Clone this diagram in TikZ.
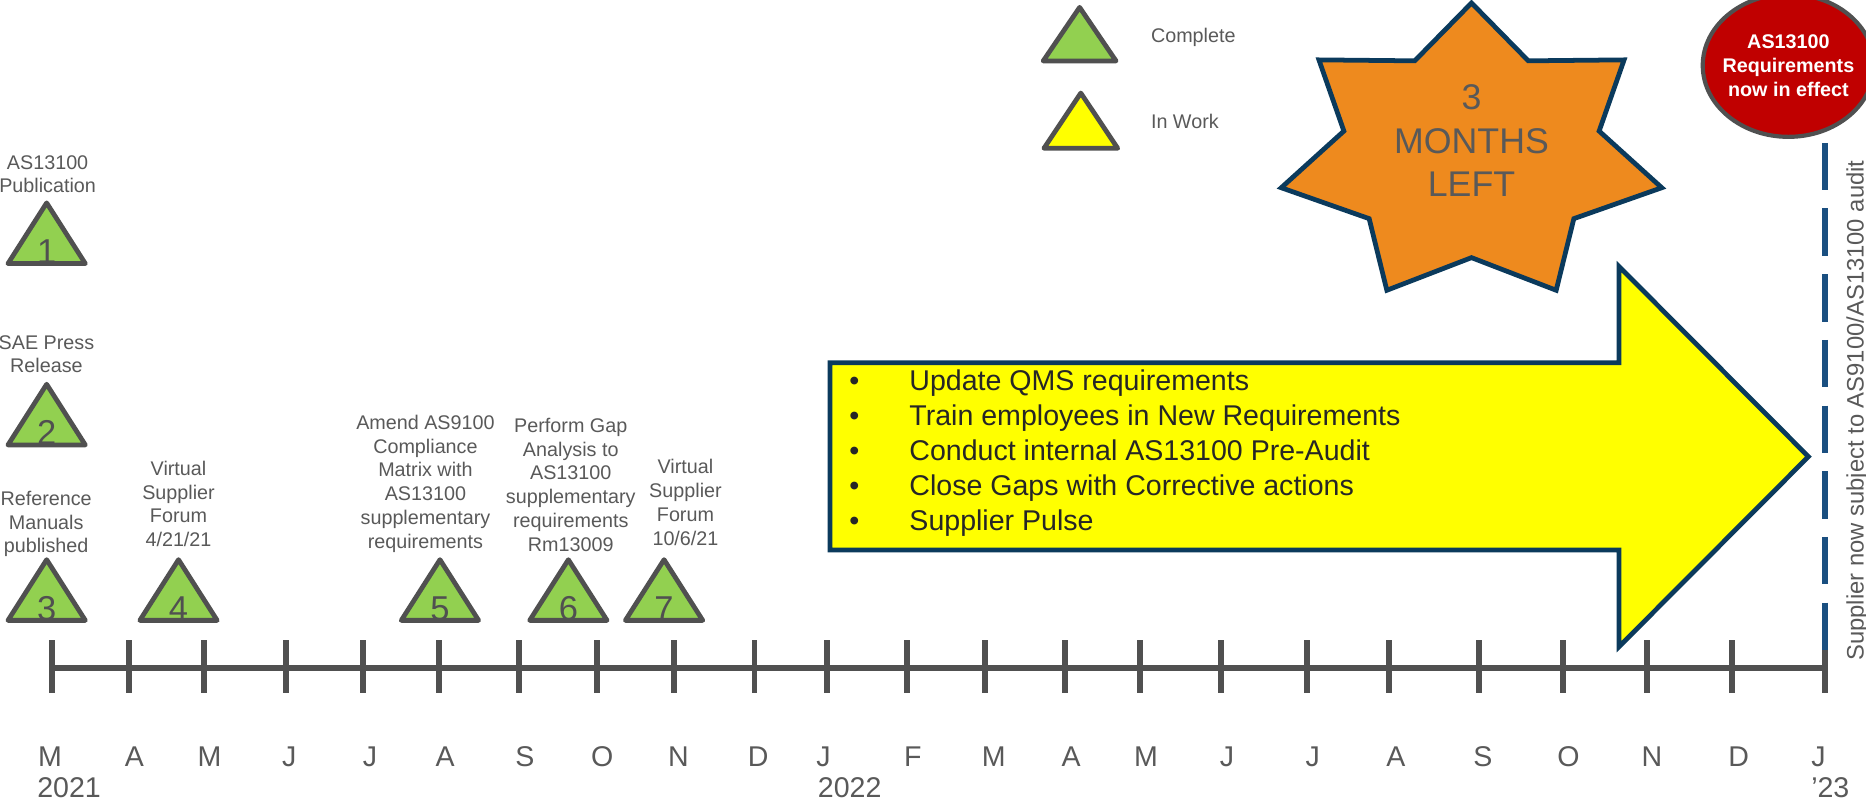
\documentclass[tikz,border=0pt]{standalone}
\usepackage{fontspec}
\setmainfont{Liberation Sans}
\usetikzlibrary{calc}

\definecolor{okgreen}{HTML}{92D050}
\definecolor{wipyellow}{HTML}{FFFF00}
\definecolor{edgegray}{HTML}{505050}
\definecolor{labelgray}{HTML}{595959}
\definecolor{burstorange}{HTML}{EE8A1E}
\definecolor{navy}{HTML}{0B3A5C}
\definecolor{auditblue}{HTML}{1A4F80}
\definecolor{effectred}{HTML}{C00000}
\definecolor{tasktext}{HTML}{262626}

\begin{document}
\begin{tikzpicture}[x=1pt, y=1pt,
        done/.style={draw=edgegray, fill=okgreen, line width=4pt, line join=round},
        inwork/.style={draw=edgegray, fill=wipyellow, line width=4pt, line join=round},
        digit/.style={anchor=base, inner sep=0, text=edgegray, font=\fontsize{29}{34}\selectfont},
        mslabel/.style={anchor=south, inner sep=0, align=center, text depth=0pt, text=labelgray, font=\fontsize{16.6}{20}\selectfont},
        lgtext/.style={anchor=base west, inner sep=0, text=labelgray, font=\fontsize{16.6}{20}\selectfont},
        burst/.style={draw=navy, fill=burstorange, line width=4pt},
        bigarrow/.style={draw=navy, fill=wipyellow, line width=4pt},
        taskdot/.style={anchor=base, inner sep=0, text=tasktext, font=\fontsize{24}{29}\selectfont},
        tasktxt/.style={anchor=base west, inner sep=0, text=tasktext, font=\fontsize{24}{29}\selectfont},
        effect/.style={draw=edgegray, fill=effectred, line width=3.5pt},
        deadline/.style={draw=auditblue, line width=4.5pt, dash pattern=on 39.8pt off 15.4pt},
        axisline/.style={draw=edgegray, line width=5pt},
        tickmark/.style={draw=edgegray, line width=5pt},
        month/.style={anchor=base, inner sep=0, text=labelgray, font=\fontsize{24}{28}\selectfont}
    ]
    \useasboundingbox (0,0) rectangle (1568,672);

    % milestones
    \foreach \n/\x/\y in {1/39.2/450.5, 2/39.2/298.1, 3/39.2/150.7, 4/150/150.7,
                          5/369.7/150.7, 6/477.6/150.7, 7/558/150.7} {
        \draw[done] (\x-32.5,\y) -- (\x,\y+51) -- (\x+32.5,\y) -- cycle;
        \node[digit] (d\n) at (\x,\y) {\n};
    }

    \node[mslabel] (lbl1) at (40,509.7) {AS13100\\Publication};
    \node[mslabel] (lbl2) at (39,358.4) {SAE Press\\Release};
    \node[mslabel] (lbl3) at (38.8,207.2) {Reference\\Manuals\\published};
    \node[mslabel] (lbl4) at (150,212.4) {Virtual\\Supplier\\Forum\\4/21/21};
    \node[mslabel] (lbl5) at (357.5,211) {Amend AS9100\\Compliance\\Matrix with\\AS13100\\supplementary\\requirements};
    \node[mslabel] (lbl6) at (479.6,208.5) {Perform Gap\\Analysis to\\AS13100\\supplementary\\requirements\\Rm13009};
    \node[mslabel] (lbl7) at (576,213.6) {Virtual\\Supplier\\Forum\\10/6/21};

    % legend
    \draw[done] (907.2-30.6,620.8) -- (907.2,665.8) -- (907.2+30.6,620.8) -- cycle;
    \draw[inwork] (908.2-31,547.4) -- (908.2,593.8) -- (908.2+31,547.4) -- cycle;
    \node[lgtext] (lgdone) at (967,636.4) {Complete};
    \node[lgtext] (lgwork) at (967,564.2) {In Work};

    % seven point burst
    \begin{scope}[shift={(1236.5,542.5)}]
        \draw[burst] (90:164 and 127)
            \foreach \k in {0,...,6} {
                -- ({90+\k*360/7+360/14}:110 and 87)
                -- ({90+(\k+1)*360/7}:164 and 127)
            } -- cycle;
    \end{scope}
    \node[anchor=south, inner sep=0, align=center, text depth=0pt, text=labelgray,
          font=\fontsize{30}{36.5}\selectfont] (months) at (1236.5,506.7) {3\\MONTHS\\LEFT};

    % big arrow with the remaining tasks
    \draw[bigarrow] (697.5,209.8) -- (697.5,367.2) -- (1360.5,367.2) -- (1360.5,448)
        -- (1519.6,288.3) -- (1360.5,128.6) -- (1360.5,209.8) -- cycle;
    \foreach \t [count=\i] in {Update QMS requirements, Train employees in New Requirements,
            Conduct internal AS13100 Pre-Audit, Close Gaps with Corrective actions, Supplier Pulse} {
        \node[taskdot] (dot\i) at (718,{343.7-(\i-1)*29.3}) {•};
        \node[tasktxt] (task\i) at (764,{343.7-(\i-1)*29.3}) {\t};
    }

    % timeline
    \draw[axisline] (43.4,111) -- (1533.6,111);
    \foreach \x in {43.4,108.7,171.7,240,305,369,436,502,566,634,695,762,828,895,
                    958,1026,1098,1167,1243,1313,1384,1455,1533.6}
        \draw[tickmark] (\x,134) -- (\x,90);
    \foreach \m/\x [count=\i] in {M/42,A/113,M/176,J/243,J/311,A/374,S/441,O/506,N/570,
            D/637,J/692,F/767,M/835,A/900,M/963,J/1031,J/1103,A/1173,S/1246,O/1318,
            N/1388,D/1461,J/1528}
        \node[month] (mo\i) at (\x,27.7) {\m};
    \node[month] (yr21) at (58,2) {2021};
    \node[month] (yr22) at (714,2) {2022};
    \node[month] (yr23) at (1538,2) {’23};

    % in effect marker
    \coordinate (dtop) at (1533.6,552);
    \coordinate (dbot) at (1533.6,124.4);
    \draw[deadline] (dtop) -- (dbot);
    \node[rotate=90, anchor=base, inner sep=0, text=labelgray, font=\fontsize{20}{24}\selectfont]
        (audit) at (1566,327) {Supplier now subject to AS9100/AS13100 audit};
    \draw[effect] (1502.8,617) ellipse [x radius=72, y radius=60];
    \node[anchor=south, inner sep=0, align=center, text depth=0pt, text=white,
          font=\fontsize{16.6}{20}\selectfont\bfseries] (effect) at (1502.8,591)
        {AS13100\\Requirements\\now in effect};
\end{tikzpicture}
\end{document}
